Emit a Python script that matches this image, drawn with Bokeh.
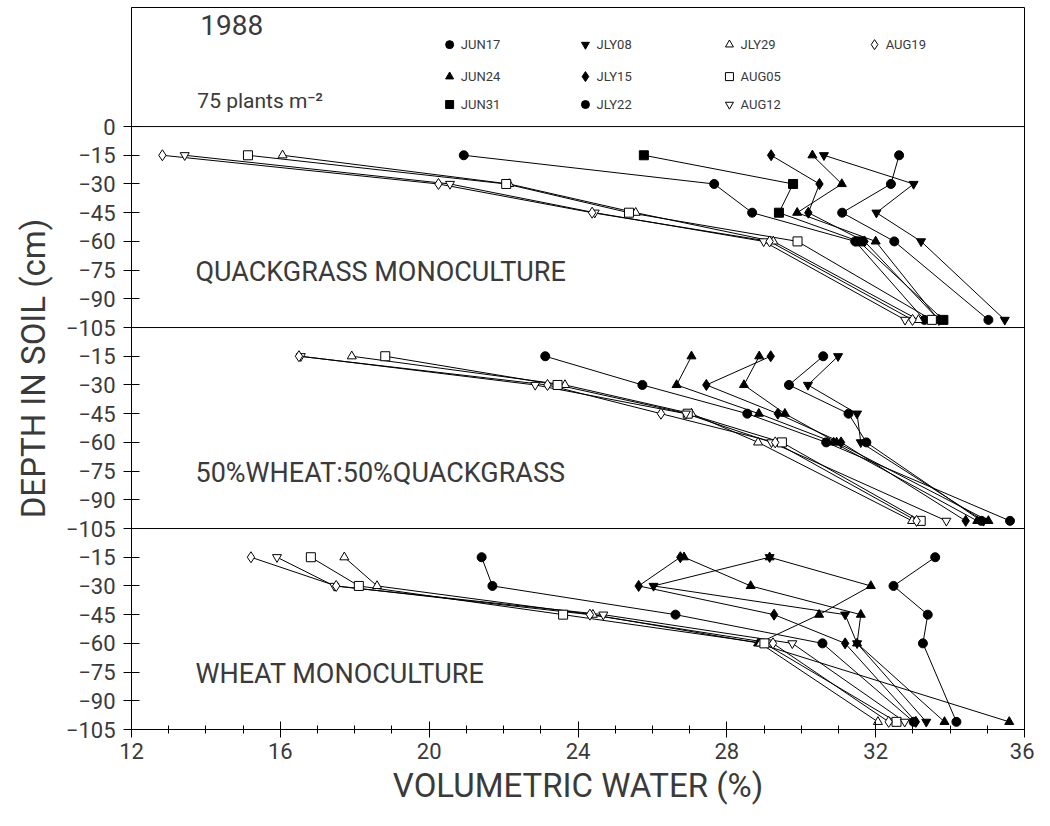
from bokeh.plotting import figure
from bokeh.models import FixedTicker, Span, Label
from bokeh.embed import file_html
from bokeh.resources import INLINE

# ---------------- data ----------------
dates = ["JUN17", "JUN24", "JUN31", "JLY08", "JLY15", "JLY22", "JLY29", "AUG05", "AUG12", "AUG19"]
depths = [-15, -30, -45, -60, -101]

quack_jun17 = [20.93, 27.66, 28.68, 31.45, 33.31]
quack_jun24 = [30.30, 31.09, 29.89, 32.00, 33.69]
quack_jun31 = [25.77, 29.78, 29.40, 31.55, 33.82]
quack_jly08 = [30.61, 33.02, 32.02, 33.22, 35.47]
quack_jly15 = [29.19, 30.49, 30.19, 31.70, 33.70]
quack_jly22 = [32.63, 32.41, 31.10, 32.50, 35.03]
quack_jly29 = [16.06, 22.15, 25.55, 29.25, 33.15]
quack_aug05 = [15.13, 22.07, 25.37, 29.90, 33.51]
quack_aug12 = [13.43, 20.56, 24.45, 28.99, 32.79]
quack_aug19 = [12.83, 20.25, 24.38, 29.15, 32.99]

mix_jun17 = [23.12, 25.73, 28.55, 30.67, 35.61]
mix_jun24 = [27.05, 26.65, 28.86, 30.87, 34.73]
mix_jun31 = [28.87, 28.46, 29.56, 30.95, 35.03]
mix_jly08 = [30.99, 30.18, 31.50, 31.60, 34.90]
mix_jly15 = [29.18, 27.45, 29.37, 31.07, 34.42]
mix_jly22 = [30.59, 29.67, 31.27, 31.75, 34.84]
mix_jly29 = [17.92, 23.65, 27.05, 28.84, 32.98]
mix_aug05 = [18.82, 23.45, 26.95, 29.48, 33.21]
mix_aug12 = [16.55, 22.85, 26.90, 29.20, 33.90]
mix_aug19 = [16.50, 23.18, 26.23, 29.30, 33.10]

wheat_jun17 = [21.41, 21.70, 26.62, 30.57, 33.02]
wheat_jun24 = [26.85, 28.64, 31.60, 31.50, 33.85]
wheat_jun31 = [29.15, 31.87, 30.48, 28.84, 35.59]
wheat_jly08 = [29.15, 26.03, 31.18, 31.50, 33.36]
wheat_jly15 = [26.75, 25.63, 29.27, 31.18, 33.08]
wheat_jly22 = [33.60, 32.48, 33.40, 33.27, 34.17]
wheat_jly29 = [17.72, 18.60, 24.40, 28.90, 32.06]
wheat_aug05 = [16.82, 18.11, 23.60, 29.01, 32.56]
wheat_aug12 = [15.91, 17.45, 24.68, 29.76, 32.78]
wheat_aug19 = [15.21, 17.50, 24.32, 29.24, 32.35]

panel_names = ["QUACKGRASS MONOCULTURE", "50%WHEAT:50%QUACKGRASS", "WHEAT MONOCULTURE"]
panels = [
    [quack_jun17, quack_jun24, quack_jun31, quack_jly08, quack_jly15,
     quack_jly22, quack_jly29, quack_aug05, quack_aug12, quack_aug19],
    [mix_jun17, mix_jun24, mix_jun31, mix_jly08, mix_jly15,
     mix_jly22, mix_jly29, mix_aug05, mix_aug12, mix_aug19],
    [wheat_jun17, wheat_jun24, wheat_jun31, wheat_jly08, wheat_jly15,
     wheat_jly22, wheat_jly29, wheat_aug05, wheat_aug12, wheat_aug19],
]

x_ticks = [12, 16, 20, 24, 28, 32, 36]
y_tick_depths = [0, -15, -30, -45, -60, -75, -90, -105]

# marker styles per date (shape, filled)
markers = ["circle", "triangle", "square", "inverted_triangle", "diamond",
           "circle", "triangle", "square", "inverted_triangle", "diamond"]
filled = [True, True, True, True, True, True, False, False, False, False]
# in the two lower panels the JUN31 series is drawn with a solid triangle
panel_marker_override = [{}, {2: "triangle"}, {2: "triangle"}]

PANEL = 105  # panel height in cm
FONT = "Roboto"
INK = "#3a3a3a"

p = figure(width=1034, height=810, x_range=(12, 36), y_range=(-3 * PANEL, 62.2),
           output_backend="svg", toolbar_location=None,
           min_border_left=131, min_border_right=10, min_border_top=7, min_border_bottom=81)
p.background_fill_color = "white"
p.border_fill_color = "white"
p.outline_line_color = "black"
p.outline_line_width = 1
p.grid.visible = False

# ---- axes ----
xa = p.xaxis[0]
xa.ticker = FixedTicker(ticks=x_ticks, minor_ticks=list(range(12, 37)))
xa.major_tick_in = 8
xa.major_tick_out = 8
xa.minor_tick_in = 4
xa.minor_tick_out = 4
xa.axis_line_color = "black"
xa.major_label_text_font = FONT
xa.major_label_text_font_size = "22px"
xa.major_label_text_color = INK
xa.major_label_standoff = 5
xa.axis_label = "VOLUMETRIC WATER (%)"
xa.axis_label_text_font = FONT
xa.axis_label_text_font_size = "33px"
xa.axis_label_text_font_style = "normal"
xa.axis_label_text_color = INK
xa.axis_label_standoff = 4

ya = p.yaxis[0]
yt = []
ylab = {}
for k in range(3):
    for d in y_tick_depths:
        yv = d - k * PANEL
        if yv in ylab:
            continue
        yt.append(yv)
        ylab[yv] = "0" if d == 0 else "\u2212" + str(-d)
ya.ticker = FixedTicker(ticks=yt, minor_ticks=[])
ya.major_label_overrides = ylab
ya.major_tick_in = 8
ya.major_tick_out = 8
ya.axis_line_color = "black"
ya.major_label_text_font = FONT
ya.major_label_text_font_size = "22px"
ya.major_label_text_color = INK
ya.major_label_standoff = 8
ya.axis_label = "DEPTH IN SOIL (cm)"
ya.axis_label_text_font = FONT
ya.axis_label_text_font_size = "33px"
ya.axis_label_text_font_style = "normal"
ya.axis_label_text_color = INK
ya.axis_label_standoff = 10

# panel separators
for k in range(3):
    p.add_layout(Span(location=-k * PANEL, dimension="width", line_color="black", line_width=1))

# ---- data ----
for k, series in enumerate(panels):
    off = k * PANEL
    ys = [d - off for d in depths]
    for i, xs in enumerate(series):
        p.line(xs, ys, line_color="black", line_width=1)
    for i, xs in enumerate(series):
        m = panel_marker_override[k].get(i, markers[i])
        size = 11 if m == "diamond" else 9
        p.scatter(xs, ys, marker=m, size=size,
                  fill_color="black" if filled[i] else "white",
                  line_color="black", line_width=1)
    p.add_layout(Label(x=13.72, y=-75.8 - off, text=panel_names[k], text_font=FONT,
                       text_font_size="27px", text_color=INK, text_baseline="middle"))

# ---- legend / header box ----
leg_cols = [20.55, 24.20, 28.07, 31.97]
leg_rows = [42.8, 26.1, 11.5]
order = [(0, 0), (1, 0), (2, 0), (0, 1), (1, 1), (2, 1), (0, 2), (1, 2), (2, 2), (0, 3)]
lx, ly = [], []
for i, (r, c) in enumerate(order):
    lx.append(leg_cols[c])
    ly.append(leg_rows[r])
for i in range(len(dates)):
    m = markers[i]
    p.scatter([lx[i]], [ly[i]], marker=m, size=10 if m == "diamond" else 8,
              fill_color="black" if filled[i] else "white", line_color="black", line_width=1)
    p.add_layout(Label(x=lx[i] + 0.3, y=ly[i], text=dates[i], text_font=FONT,
                       text_font_size="13px", text_color=INK, text_baseline="middle"))

p.add_layout(Label(x=13.85, y=52.8, text="1988", text_font=FONT, text_font_size="28px",
                   text_color=INK, text_baseline="middle"))
p.add_layout(Label(x=13.77, y=13.6, text="75 plants m\u207b\u00b2", text_font=FONT,
                   text_font_size="21px", text_color=INK, text_baseline="middle"))

open("out.html", "w").write(file_html(p, INLINE))
